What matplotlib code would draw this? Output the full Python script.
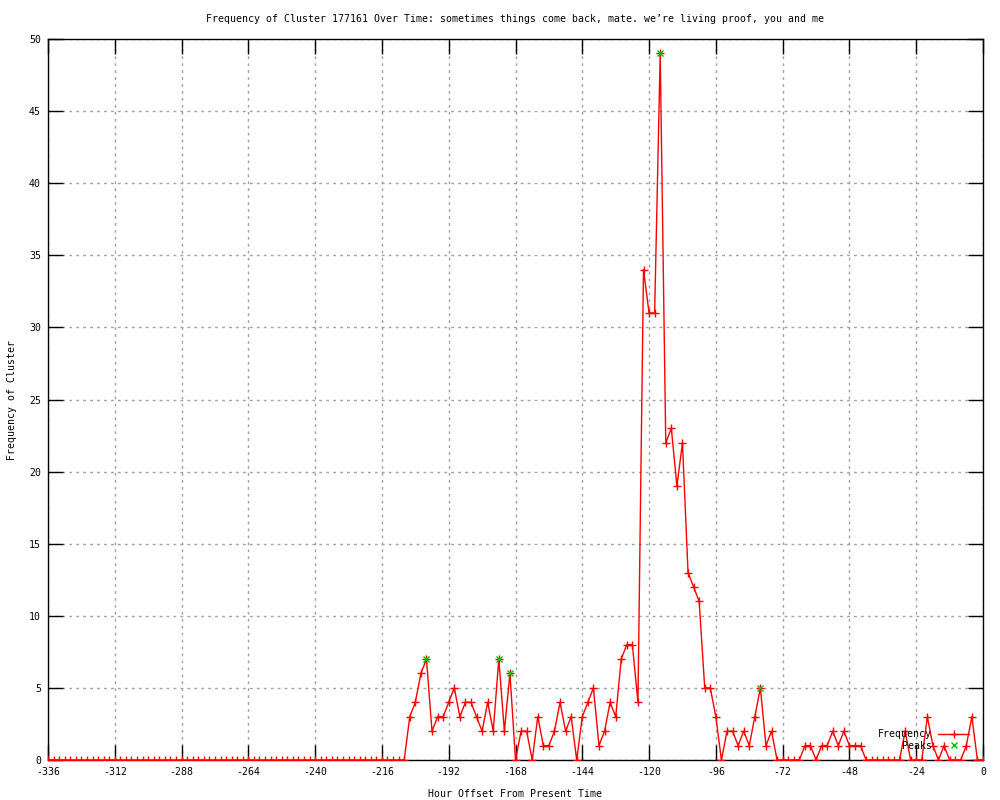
import matplotlib
matplotlib.use("Agg")
import matplotlib.pyplot as plt
import numpy as np

plt.rcParams["axes.unicode_minus"] = False

hours = list(range(-336, 1, 2))

zeros_lead = [0] * 65  # -336 .. -208
active = [3, 4, 6, 7, 2, 3, 3, 4, 5, 3, 4, 4, 3, 2, 4, 2, 7, 2, 6, 0,      # -206 .. -168
          2, 2, 0, 3, 1, 1, 2, 4, 2, 3, 0, 3, 4, 5, 1, 2, 4, 3, 7, 8,      # -166 .. -128
          8, 4, 34, 31, 31, 49, 22, 23, 19, 22, 13, 12, 11, 5, 5, 3, 0,    # -126 .. -94
          2, 2, 1, 2, 1, 3, 5, 1, 2, 0, 0, 0, 0, 0, 1, 1, 0, 1, 1, 2,      # -92 .. -54
          1, 2, 1, 1, 1, 0, 0, 0, 0, 0, 0, 0, 2, 0, 0, 0, 3, 1, 0, 1,      # -52 .. -14
          0, 0, 0, 1, 3, 0, 0]                                               # -12 .. 0
frequency = zeros_lead + active

peak_hours = [-200, -174, -170, -116, -80]
peak_values = [7, 7, 6, 49, 5]

x_ticks = list(range(-336, 1, 24))
y_ticks = list(range(0, 51, 5))

FONT = "DejaVu Sans Mono"
FS = 7.1

fig = plt.figure(figsize=(10, 8), dpi=100)
ax = fig.add_axes([0.048, 0.05, 0.935, 0.90125])

ax.plot(hours, frequency, color="red", lw=1, marker="+", ms=6, mew=1,
        label="Frequency", zorder=3)
ax.plot(peak_hours, peak_values, ls="none", color="#00c000", marker="x",
        ms=5, mew=1, label="Peaks", zorder=4)

ax.set_xlim(-336, 0)
ax.set_ylim(0, 50)
ax.set_xticks(x_ticks)
ax.set_yticks(y_ticks)
ax.grid(True, color="#a0a0a0", linestyle=(0, (2, 3)), linewidth=1)
ax.set_axisbelow(True)
ax.tick_params(direction="in", length=11, width=1, top=True, right=True,
               labelsize=FS, pad=5)
for lab in ax.get_xticklabels() + ax.get_yticklabels():
    lab.set_family(FONT)
for s in ax.spines.values():
    s.set_linewidth(1)

ax.set_title("Frequency of Cluster 177161 Over Time: sometimes things come back, mate. we\u2019re living proof, you and me",
             fontsize=FS, family=FONT, pad=12)
ax.set_xlabel("Hour Offset From Present Time", fontsize=FS, family=FONT, labelpad=9)
ax.set_ylabel("Frequency of Cluster", fontsize=FS, family=FONT, labelpad=9)

leg = ax.legend(loc="lower right", bbox_to_anchor=(0.985, 0.013), frameon=False,
                markerfirst=False, prop={"family": FONT, "size": FS},
                handlelength=3.1, handletextpad=0.7, labelspacing=0.15,
                borderpad=0, borderaxespad=0)

fig.savefig("out.png", dpi=100)
